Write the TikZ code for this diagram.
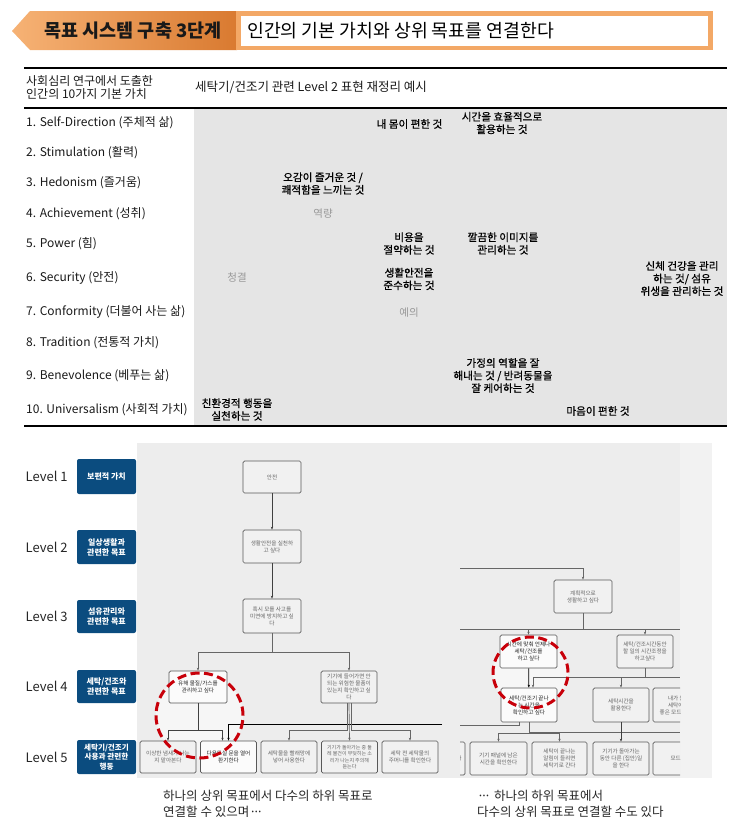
\documentclass[tikz,border=0pt]{standalone}
\usepackage{fontspec}
\setmainfont{Noto Sans CJK KR}
\newfontfamily\cellfont[FakeBold=0.7]{Noto Sans CJK KR}
\usepackage{tikz}
\usetikzlibrary{arrows.meta,positioning}
\usepackage{xcolor}

\definecolor{bannerlight}{HTML}{F6B275}
\definecolor{bannerdark}{HTML}{D97A30}
\definecolor{bannerline}{HTML}{F3A866}
\definecolor{tablegray}{HTML}{E5E5E5}
\definecolor{shotgray}{HTML}{EDEDED}
\definecolor{goalfill}{HTML}{F1F1F1}
\definecolor{levelblue}{HTML}{0B4C7F}
\definecolor{markred}{HTML}{C8000A}

\newcommand{\middots}{·\kern-0.28em·\kern-0.28em·}

\begin{document}
\begin{tikzpicture}[x=1pt,y=-1pt,
    rowtext/.style={anchor=west, inner sep=0pt, font=\fontsize{12}{13.5}\selectfont, text=black!90},
    celltext/.style={align=center, inner sep=0pt, font=\cellfont\fontsize{10.6}{12.6}\selectfont},
    celldim/.style={inner sep=0pt, font=\fontsize{10.5}{12}\selectfont, text=black!40},
    levelbox/.style={fill=levelblue, rounded corners=2pt, minimum width=59pt, minimum height=34pt, inner sep=1pt, align=center, text=white, font=\bfseries\fontsize{8}{10}\selectfont},
    leveltext/.style={inner sep=0pt, font=\fontsize{13}{15}\selectfont, text=black!85},
    goal/.style={draw=black!65, line width=0.7pt, rounded corners=1.5pt, fill=goalfill, minimum width=56pt, minimum height=33pt, inner sep=1pt, align=center, text=black!60, font=\fontsize{5.6}{7}\selectfont},
    goalhi/.style={goal, fill=white!70!goalfill, text=black!85},
    conn/.style={draw=black!60, line width=0.7pt, -{Stealth[length=3pt,width=2.4pt]}},
    wire/.style={draw=black!60, line width=0.7pt},
    redring/.style={draw=markred, line width=3pt, dash pattern=on 9pt off 4.5pt},
    caption/.style={anchor=west, align=left, inner sep=0pt, font=\fontsize{12.5}{16}\selectfont, text=black!85}]
    \useasboundingbox (0,0) rectangle (743,830);

    % Header banner
    \shade[left color=bannerlight, middle color=bannerlight!85!bannerdark, right color=bannerdark]
        (12,31) -- (30,11) -- (237,11) -- (237,50) -- (30,50) -- cycle;
    \fill[bannerline] (236,11) rectangle (713,50);
    \fill[white] (241,16) rectangle (708,46);
    \node[inner sep=0pt, font=\bfseries\fontsize{18.5}{21}\selectfont, text=black!90] (stagetitle) at (133,31) {목표 시스템 구축 3단계};
    \node[anchor=west, inner sep=0pt, font=\fontsize{18.3}{21}\selectfont] (stagegoal) at (247,31) {인간의 기본 가치와 상위 목표를 연결한다};

    % Values table
    \fill[tablegray] (194,108) rectangle (727,425);
    \draw[line width=1.2pt] (24,68) -- (727,68);
    \draw[line width=1.2pt] (24,108) -- (727,108);
    \draw[line width=1.2pt] (24,426) -- (727,426);

    \node[rowtext, align=left] (colvalues) at (26,87.5) {사회심리 연구에서 도출한\\인간의 10가지 기본 가치};
    \node[rowtext, font=\fontsize{12.5}{14}\selectfont] (colexamples) at (195,87) {세탁기/건조기 관련 Level 2 표현 재정리 예시};

    \node[rowtext] (val1) at (26,123) {1. Self-Direction (주체적 삶)};
    \node[rowtext] (val2) at (26,153) {2. Stimulation (활력)};
    \node[rowtext] (val3) at (26,183) {3. Hedonism (즐거움)};
    \node[rowtext] (val4) at (26,214) {4. Achievement (성취)};
    \node[rowtext] (val5) at (26,244) {5. Power (힘)};
    \node[rowtext] (val6) at (26,278) {6. Security (안전)};
    \node[rowtext] (val7) at (26,312) {7. Conformity (더불어 사는 삶)};
    \node[rowtext] (val8) at (26,343) {8. Tradition (전통적 가치)};
    \node[rowtext] (val9) at (26,376) {9. Benevolence (베푸는 삶)};
    \node[rowtext] (val10) at (26,410) {10. Universalism (사회적 가치)};

    \node[celltext] (cellcomfort) at (409.5,124) {내 몸이 편한 것};
    \node[celltext] (celltime) at (502,123) {시간을 효율적으로\\활용하는 것};
    \node[celltext] (cellsenses) at (323,183.5) {오감이 즐거운 것 /\\쾌적함을 느끼는 것};
    \node[celldim] (cellability) at (323,214) {역량};
    \node[celltext] (cellsaving) at (409,243.5) {비용을\\절약하는 것};
    \node[celltext] (cellimage) at (503,243.5) {깔끔한 이미지를\\관리하는 것};
    \node[celltext] (cellsafety) at (409,279) {생활안전을\\준수하는 것};
    \node[celltext] (cellhealth) at (682,278.5) {신체 건강을 관리\\하는 것/ 섬유\\위생을 관리하는 것};
    \node[celldim] (cellclean) at (237,278) {청결};
    \node[celldim] (cellmanners) at (409,313) {예의};
    \node[celltext] (cellfamily) at (503,375.5) {가정의 역할을 잘\\해내는 것 / 반려동물을\\잘 케어하는 것};
    \node[celltext] (cellgreen) at (237,409.5) {친환경적 행동을\\실천하는 것};
    \node[celltext] (cellmind) at (598,411) {마음이 편한 것};

    % Level legend
    \node[levelbox, minimum height=35pt] (lvbox1) at (106.5,476.5) {보편적 가치};
    \node[levelbox] (lvbox2) at (106.5,547) {일상생활과\\관련한 목표};
    \node[levelbox, minimum height=33pt] (lvbox3) at (106.5,616.5) {섬유관리와\\관련한 목표};
    \node[levelbox, minimum height=33pt] (lvbox4) at (106.5,686.5) {세탁/건조와\\관련한 목표};
    \node[levelbox, font=\bfseries\fontsize{7.6}{9.4}\selectfont] (lvbox5) at (106.5,757) {세탁기/건조기\\사용과 관련한\\행동};
    \node[leveltext, left=9pt of lvbox1] (lvtext1) {Level 1};
    \node[leveltext, left=9pt of lvbox2] (lvtext2) {Level 2};
    \node[leveltext, left=9pt of lvbox3] (lvtext3) {Level 3};
    \node[leveltext, left=9pt of lvbox4] (lvtext4) {Level 4};
    \node[leveltext, left=9pt of lvbox5] (lvtext5) {Level 5};

    % Goal trees (screenshots)
    \fill[shotgray] (137,443) rectangle (712,778);
    \fill[black!5] (680,443) rectangle (712,778);
    \fill[white, fill opacity=0.5] (199.5,715.5) ellipse [x radius=43.5pt, y radius=42.5pt];
    \fill[white, fill opacity=0.5] (530.5,672.5) ellipse [x radius=37.5pt, y radius=35.5pt];

    % left tree: one goal to many
    \node[goal, minimum width=58pt, minimum height=32pt] (safety) at (272,477) {안전};
    \node[goal, minimum width=58pt] (dailysafe) at (272,546.5) {생활안전을 실천하\\고 싶다};
    \node[goal, minimum width=58pt, minimum height=34pt] (prevent) at (272,616) {혹시 모를 사고를\\미연에 방지하고 싶\\다};
    \node[goalhi, minimum width=58pt, minimum height=32pt] (harmful) at (198,687) {유해 물질/가스를\\관리하고 싶다};
    \node[goal, minimum height=32pt] (danger) at (349,687) {기기에 들어가면 안\\되는 위험한 물품이\\있는지 확인하고 싶\\다};
    \node[goal, minimum height=32pt] (smell) at (168,757) {이상한 냄새가 나는\\지 맡아본다};
    \node[goalhi, minimum height=32pt] (airout) at (228.5,757) {다용도실 문을 열어\\환기한다};
    \node[goal, minimum height=32pt] (laundrynet) at (289,757) {세탁물을 빨래망에\\넣어 사용한다};
    \node[goal, minimum height=32pt, font=\fontsize{5}{6.3}\selectfont] (listen) at (349.5,757) {기기가 돌아가는 중 둘\\레 물건이 부딪히는 소\\리가 나는지 주의해\\듣는다};
    \node[goal, minimum height=32pt] (pockets) at (410,757) {세탁 전 세탁물의\\주머니를 확인한다};

    \draw[conn,draw=black!75] (safety) -- (dailysafe);
    \draw[conn,draw=black!75] (dailysafe) -- (prevent);
    \draw[conn] (prevent.south) -- ++(0,19) -| (harmful.north);
    \draw[conn] (prevent.south) -- ++(0,19) -| (danger.north);
    \draw[conn,draw=black!75] (harmful.south) -- ++(0,27) -| (smell.north);
    \draw[conn,draw=black!75] (harmful.south) -- ++(0,27) -| ([xshift=-6pt]airout.north);
    \coordinate (leftcut) at (442,724);
    \draw[conn,draw=black] (leftcut) -| (airout.north);
    \draw[conn] ([xshift=-2pt]danger.south) -- ++(0,27) -| (laundrynet.north);
    \draw[conn] (danger.south) -- (listen.north);
    \draw[conn] ([xshift=2pt]danger.south) -- ++(0,27) -| (pockets.north);

    % right tree: one goal from many
    \begin{scope}
        \clip (460,443) rectangle (680,778);
        \node[goal, minimum width=58pt] (planned) at (583,596.5) {계획적으로\\생활하고 싶다};
        \node[goalhi, minimum width=57pt] (ontime) at (528.5,651.5) {시간에 맞춰 언제나\\세탁/건조를\\하고 싶다};
        \node[goal] (schedule) at (645,651.5) {세탁/건조시간동안\\할 일의 시간조정을\\하고싶다};
        \node[goalhi, minimum height=34pt] (endtime) at (529,705) {세탁/건조기 끝나\\는 시간을\\확인하고 싶다};
        \node[goal, minimum height=34pt] (usetime) at (621,705) {세탁시간을\\활용한다};
        \node[goal, minimum width=57pt, minimum height=34pt] (mymode) at (681.5,705) {내가 원하는\\세탁에 맞게\\좋은 모드를 고른다};
        \node[goal, minimum width=57pt, text width=50pt, align=right] (leftpart) at (436.5,758.5) {다};
        \node[goal, minimum width=57pt] (panel) at (498.5,758.5) {기기 패널에 남은\\시간을 확인한다};
        \node[goal, minimum width=55pt] (alarm) at (559.5,758.5) {세탁이 끝나는\\알림이 들리면\\세탁기로 간다};
        \node[goal] (chores) at (621,758.5) {기기가 돌아가는\\동안 다른 (집안)일\\을 한다};
        \node[goal, minimum width=57pt] (modeset) at (681.5,758.5) {모드 예약};

        \coordinate (rightcutA) at (460,568);
        \coordinate (rightcutB) at (460,629);
        \coordinate (rightcutC) at (680,629);
        \coordinate (rightcutD) at (680,677);
        \coordinate (rightcutE) at (680,732.5);
        \coordinate (rightcutF) at (460,725);
        \draw[conn] (rightcutA) -| (planned.north);
        \draw[wire] (rightcutB) -- (rightcutC);
        \draw[conn] (planned.south) -- ++(0,16) -| (ontime.north);
        \draw[conn] (planned.south) -- ++(0,16) -| (schedule.north);
        \draw[conn,draw=black] (ontime) -- (endtime);
        \draw[wire] (schedule.south) |- (rightcutD);
        \draw[conn] (schedule.south) -- ++(0,9) -| ([xshift=4pt]endtime.north);
        \draw[conn] (schedule.south) -- ++(0,9) -| (usetime.north);
        \draw[wire] (endtime.south) |- (rightcutE);
        \draw[conn] (endtime.south) -- ++(0,10.5) -| (panel.north);
        \draw[conn] (endtime.south) -- ++(0,10.5) -| (alarm.north);
        \draw[wire] ([xshift=-10pt]endtime.south) |- (rightcutF);
        \draw[conn,draw=black!75] (usetime) -- (chores);
    \end{scope}

    % highlight rings
    \draw[redring] (199.5,715.5) ellipse [x radius=43.5pt, y radius=42.5pt];
    \draw[redring] (530.5,672.5) ellipse [x radius=37.5pt, y radius=35.5pt];

    % Captions
    \node[caption] (captionleft) at (163,804) {하나의 상위 목표에서 다수의 하위 목표로\\연결할 수 있으며\middots};
    \node[caption] (captionright) at (477,804) {\middots{} 하나의 하위 목표에서\\다수의 상위 목표로 연결할 수도 있다};
\end{tikzpicture}
\end{document}
